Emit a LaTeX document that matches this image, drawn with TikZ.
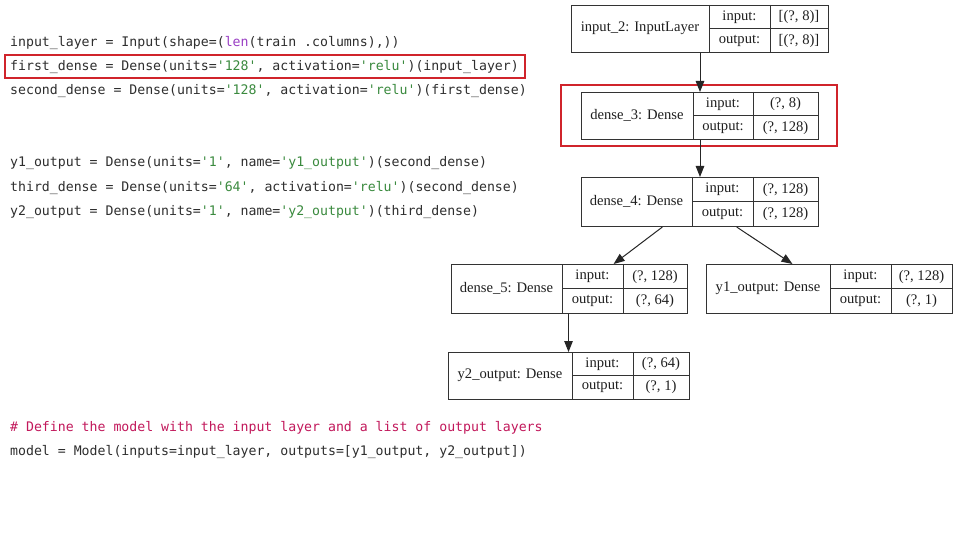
\documentclass[tikz,border=0pt]{standalone}
\usepackage{fontspec}
\usetikzlibrary{arrows.meta,calc}
\newfontfamily\codefont[Ligatures=TeXOff]{DejaVu Sans Mono}
\newfontfamily\gvfont{Liberation Serif}
\definecolor{codegray}{HTML}{2E2E2E}
\definecolor{codepurple}{HTML}{9A3FC4}
\definecolor{codegreen}{HTML}{3A8A3E}
\definecolor{codecomment}{HTML}{C2185B}
\definecolor{hlred}{HTML}{D0242B}
\definecolor{gvline}{HTML}{333333}
\newcommand\cg[1]{\textcolor{codegreen}{#1}}
\begin{document}
\begin{tikzpicture}[x=1pt,y=-1pt,
  codeline/.style={anchor=base west, inner sep=0, font=\codefont\fontsize{13.2}{16}\selectfont, text=codegray},
  gvbox/.style={draw=gvline, line width=1pt, inner sep=0},
  gvdiv/.style={draw=gvline, line width=1pt},
  gvtext/.style={inner sep=0, font=\gvfont\fontsize{14.6}{17}\selectfont, text=black!88},
  hlbox/.style={draw=hlred, line width=1.8pt},
  gvarrow/.style={draw=black!85, line width=1pt, -{Triangle[length=11pt,width=8.5pt]}}]
\useasboundingbox (0,0) rectangle (960,540);
\fill[white] (0,0) rectangle (960,540);

% ---------------- code ----------------
\node[codeline] (c1) at (10,47) {input\_layer = Input(shape=(\textcolor{codepurple}{len}(train .columns),))};
\node[codeline] (c2) at (10,71) {first\_dense = Dense(units=\cg{'128'}, activation=\cg{'relu'})(input\_layer)};
\node[codeline] (c3) at (10,95) {second\_dense = Dense(units=\cg{'128'}, activation=\cg{'relu'})(first\_dense)};
\node[codeline] (c4) at (10,167) {y1\_output = Dense(units=\cg{'1'}, name=\cg{'y1\_output'})(second\_dense)};
\node[codeline] (c5) at (10,191) {third\_dense = Dense(units=\cg{'64'}, activation=\cg{'relu'})(second\_dense)};
\node[codeline] (c6) at (10,215) {y2\_output = Dense(units=\cg{'1'}, name=\cg{'y2\_output'})(third\_dense)};
\node[codeline, text=codecomment] (c7) at (10,431) {\# Define the model with the input layer and a list of output layers};
\node[codeline] (c8) at (10,455) {model = Model(inputs=input\_layer, outputs=[y1\_output, y2\_output])};

\draw[hlbox] (5,55) rectangle (525,78);

% ---------------- layers ----------------
% input_2
\node[gvbox, anchor=north west, minimum width=257pt, minimum height=47pt] (in2) at (571,5) {};
\draw[gvdiv] (709,5) -- (709,52) (770,5) -- (770,52) (709,28.5) -- (828,28.5);
\node[gvtext] (in2l) at (640,28.5) {input\_2: InputLayer};
\node[gvtext] (in2a) at (739.5,17) {input:};
\node[gvtext] (in2b) at (799,17) {[(?, 8)]};
\node[gvtext] (in2c) at (739.5,40.5) {output:};
\node[gvtext] (in2d) at (799,40.5) {[(?, 8)]};

% dense_3
\node[gvbox, anchor=north west, minimum width=237pt, minimum height=47pt] (d3) at (581,92) {};
\draw[gvdiv] (693,92) -- (693,139) (753,92) -- (753,139) (693,115.5) -- (818,115.5);
\node[gvtext] (d3l) at (637,115.5) {dense\_3: Dense};
\node[gvtext] (d3a) at (723,104) {input:};
\node[gvtext] (d3b) at (785.5,104) {(?, 8)};
\node[gvtext] (d3c) at (723,127.5) {output:};
\node[gvtext] (d3d) at (785.5,127.5) {(?, 128)};

% dense_4
\node[gvbox, anchor=north west, minimum width=237pt, minimum height=49pt] (d4) at (581,177) {};
\draw[gvdiv] (692,177) -- (692,226) (753,177) -- (753,226) (692,201.5) -- (818,201.5);
\node[gvtext] (d4l) at (636.5,201.5) {dense\_4: Dense};
\node[gvtext] (d4a) at (722.5,189.5) {input:};
\node[gvtext] (d4b) at (785.5,189.5) {(?, 128)};
\node[gvtext] (d4c) at (722.5,213.5) {output:};
\node[gvtext] (d4d) at (785.5,213.5) {(?, 128)};

% dense_5
\node[gvbox, anchor=north west, minimum width=236pt, minimum height=49pt] (d5) at (451,264) {};
\draw[gvdiv] (562,264) -- (562,313) (623,264) -- (623,313) (562,288.5) -- (687,288.5);
\node[gvtext] (d5l) at (506.5,288.5) {dense\_5: Dense};
\node[gvtext] (d5a) at (592.5,276.5) {input:};
\node[gvtext] (d5b) at (655,276.5) {(?, 128)};
\node[gvtext] (d5c) at (592.5,300.5) {output:};
\node[gvtext] (d5d) at (655,300.5) {(?, 64)};

% y1_output
\node[gvbox, anchor=north west, minimum width=246pt, minimum height=49pt] (y1) at (706,264) {};
\draw[gvdiv] (830,264) -- (830,313) (891,264) -- (891,313) (830,288.5) -- (952,288.5);
\node[gvtext] (y1l) at (768,288.5) {y1\_output: Dense};
\node[gvtext] (y1a) at (860.5,276.5) {input:};
\node[gvtext] (y1b) at (921.5,276.5) {(?, 128)};
\node[gvtext] (y1c) at (860.5,300.5) {output:};
\node[gvtext] (y1d) at (921.5,300.5) {(?, 1)};

% y2_output
\node[gvbox, anchor=north west, minimum width=241pt, minimum height=47pt] (y2) at (448,352) {};
\draw[gvdiv] (572,352) -- (572,399) (633,352) -- (633,399) (572,375.5) -- (689,375.5);
\node[gvtext] (y2l) at (510,375.5) {y2\_output: Dense};
\node[gvtext] (y2a) at (602.5,364) {input:};
\node[gvtext] (y2b) at (661,364) {(?, 64)};
\node[gvtext] (y2c) at (602.5,387) {output:};
\node[gvtext] (y2d) at (661,387) {(?, 1)};

% highlight around dense_3
\draw[hlbox] (561,85) rectangle (837,146);

% ---------------- connectors ----------------
\coordinate (y2in) at ($(y2.north west)!0.498!(y2.north east)$);
\draw[gvarrow] (in2.south) -- (d3.north);
\draw[gvarrow] (d3.south) -- (d4.north);
\draw[gvarrow] ($(d4.south west)!0.342!(d4.south east)$) -- ($(d5.north west)!0.686!(d5.north east)$);
\draw[gvarrow] ($(d4.south west)!0.654!(d4.south east)$) -- ($(y1.north west)!0.35!(y1.north east)$);
\draw[gvarrow] (y2in |- d5.south) -- (y2in);
\end{tikzpicture}
\end{document}
